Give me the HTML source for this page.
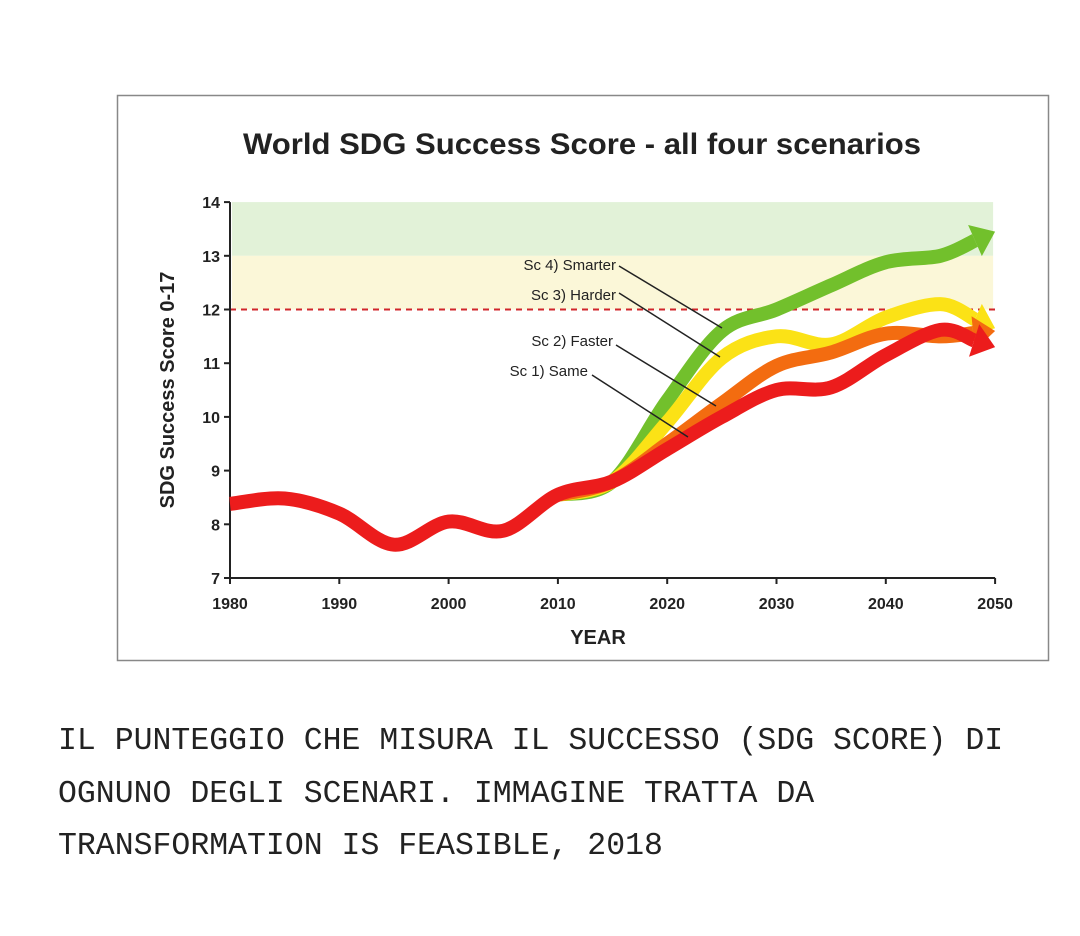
<!DOCTYPE html>
<html><head><meta charset="utf-8"><style>
body{margin:0;background:#fff;width:1080px;height:936px;overflow:hidden;font-family:"Liberation Sans",sans-serif}
#cap{position:absolute;left:58px;top:716px;font-family:"Liberation Mono",monospace;font-size:31.5px;line-height:52.5px;color:#222;letter-spacing:0}
</style></head><body>
<svg id="chart" width="1080" height="700" style="position:absolute;left:0;top:0" xmlns="http://www.w3.org/2000/svg">
<rect x="117.5" y="95.5" width="931" height="565" fill="#fff" stroke="#888" stroke-width="1.5"/>
<text x="582" y="154" text-anchor="middle" font-weight="bold" font-size="30" textLength="678" lengthAdjust="spacingAndGlyphs" fill="#222">World SDG Success Score - all four scenarios</text>
<g id="plot"></g>
</svg>
<div id="cap">IL PUNTEGGIO CHE MISURA IL SUCCESSO (SDG SCORE) DI<br>OGNUNO DEGLI SCENARI. IMMAGINE TRATTA DA<br>TRANSFORMATION IS FEASIBLE, 2018</div>
<script>
const yearsHist=[1980,1985,1990,1995,2000,2005,2010,2015,2020,2025,2030,2035,2040,2045,2050];
const sameVals=[8.38,8.48,8.2,7.62,8.05,7.88,8.55,8.8,9.4,10.0,10.5,10.55,11.15,11.62,11.3];
const yearsScen=[2010,2015,2020,2025,2030,2035,2040,2045,2050];
const fasterVals=[8.55,8.8,9.5,10.25,10.95,11.2,11.55,11.5,11.6];
const harderVals=[8.55,8.8,9.9,11.1,11.5,11.35,11.85,12.1,11.65];
const smarterVals=[8.55,8.8,10.3,11.6,12.0,12.45,12.88,13.0,13.45];
const xTicks=[1980,1990,2000,2010,2020,2030,2040,2050];
const yTicks=[7,8,9,10,11,12,13,14];
const NS="http://www.w3.org/2000/svg";
const g=document.getElementById('plot');
const X=yr=>230+(yr-1980)*10.93;
const Y=v=>578-(v-7)*53.7;
function mk(t,a){const e=document.createElementNS(NS,t);for(const k in a)e.setAttribute(k,a[k]);g.appendChild(e);return e;}
let e;
e=mk('rect',{x:X(1980)+2,y:Y(14),width:X(2050)-X(1980)-4,height:Y(13)-Y(14),fill:'#e2f2d8'});

e=mk('rect',{x:X(1980)+2,y:Y(13),width:X(2050)-X(1980)-4,height:Y(12)-Y(13),fill:'#fbf7d8'});

e=mk('line',{x1:X(1980),x2:X(2050),y1:Y(12),y2:Y(12),stroke:'#d0262a','stroke-width':2,'stroke-dasharray':'6,5'});

e=mk('path',{d:`M${X(1980)} ${Y(14)}V${Y(7)}H${X(2050)}`,fill:'none',stroke:'#222','stroke-width':2});

yTicks.forEach(v=>{mk('line',{x1:X(1980)-6,x2:X(1980),y1:Y(v),y2:Y(v),stroke:'#222','stroke-width':2});
 e=mk('text',{x:X(1980)-10,y:Y(v)+6,'text-anchor':'end','font-size':16,'font-weight':'bold',fill:'#222'});e.textContent=v;
 });
xTicks.forEach(v=>{mk('line',{x1:X(v),x2:X(v),y1:Y(7),y2:Y(7)+6,stroke:'#222','stroke-width':2});
 e=mk('text',{x:X(v),y:Y(7)+31,'text-anchor':'middle','font-size':16,'font-weight':'bold',fill:'#222'});e.textContent=v;
 });
e=mk('text',{x:598,y:644,'text-anchor':'middle','font-size':20,'font-weight':'bold',fill:'#222'});e.textContent='YEAR';

e=mk('text',{x:0,y:0,transform:'translate(174,390) rotate(-90)','text-anchor':'middle','font-size':20,'font-weight':'bold',fill:'#222'});e.textContent='SDG Success Score  0-17';

function smooth(pts){let d=`M${pts[0][0]} ${pts[0][1]}`;for(let i=0;i<pts.length-1;i++){const p0=pts[i-1]||pts[i],p1=pts[i],p2=pts[i+1],p3=pts[i+2]||p2;
 d+=`C${p1[0]+(p2[0]-p0[0])/6} ${p1[1]+(p2[1]-p0[1])/6} ${p2[0]-(p3[0]-p1[0])/6} ${p2[1]-(p3[1]-p1[1])/6} ${p2[0]} ${p2[1]}`;}return d;}
function series(yrs,vals,col,name){
 const pts=yrs.map((y,i)=>[X(y),Y(vals[i])]);
 const n=pts.length;const a=pts[n-2],b=pts[n-1];
 const dx=b[0]-a[0],dy=b[1]-a[1],L=Math.hypot(dx,dy),ux=dx/L,uy=dy/L;
 const base=[b[0]-ux*22,b[1]-uy*22];pts[n-1]=base;
 e=mk('path',{d:smooth(pts),fill:'none',stroke:col,'stroke-width':14,'stroke-linejoin':'round'});
 
 const px=-uy,py=ux;
 e=mk('polygon',{points:`${b[0]},${b[1]} ${base[0]+px*17},${base[1]+py*17} ${base[0]-px*17},${base[1]-py*17}`,fill:col});
 }
series(yearsScen,smarterVals,'#72c02c','smarter');
series(yearsScen,harderVals,'#fbe216','harder');
series(yearsScen,fasterVals,'#f36c10','faster');
series(yearsHist,sameVals,'#ec1c1c','same');
const labels=[['Sc 4) Smarter',616,270,619,266,722,328],['Sc 3) Harder',616,300,619,293,720,357],['Sc 2) Faster',613,346,616,345,716,406],['Sc 1) Same',588,376,592,375,688,437]];
labels.forEach(l=>{e=mk('text',{x:l[1],y:l[2],'text-anchor':'end','font-size':15,fill:'#222'});e.textContent=l[0];
 
 e=mk('line',{x1:l[3],y1:l[4],x2:l[5],y2:l[6],stroke:'#222','stroke-width':1.5});
 });
</script>
</body></html>
